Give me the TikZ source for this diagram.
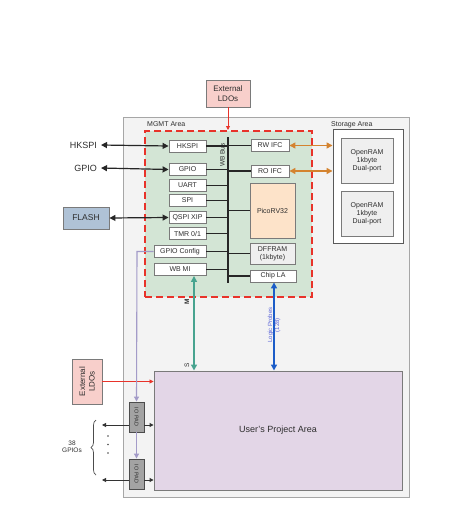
\documentclass[tikz,border=0pt]{standalone}
\usepackage{fontspec}
\setmainfont{Liberation Sans}
\usetikzlibrary{arrows.meta,decorations.pathreplacing}

\definecolor{chipfill}{HTML}{F3F3F3}
\definecolor{chipline}{HTML}{A6A6A6}
\definecolor{mgmtfill}{HTML}{D3E5D5}
\definecolor{mgmtred}{HTML}{E8332A}
\definecolor{ldofill}{HTML}{F8CFCB}
\definecolor{flashfill}{HTML}{AFC2D6}
\definecolor{picofill}{HTML}{FDE3C9}
\definecolor{ramfill}{HTML}{EFEFEF}
\definecolor{userfill}{HTML}{E3D6E7}
\definecolor{padfill}{HTML}{A3A3A3}
\definecolor{tealc}{HTML}{47A38F}
\definecolor{bluec}{HTML}{1B5CC8}
\definecolor{probec}{HTML}{5A64D8}
\definecolor{orangec}{HTML}{D4832F}
\definecolor{lavc}{HTML}{A39BC8}
\definecolor{boxline}{HTML}{7A7A7A}
\definecolor{txt}{HTML}{2E2E2E}

\tikzset{
  every node/.style={text=txt, font=\fontsize{7}{8}\selectfont, align=center, inner sep=0pt},
  blk/.style={draw=boxline, line width=0.9pt, fill=white, minimum width=37pt, minimum height=12pt},
  tips/.style={{Triangle[length=6pt,width=6pt]}-{Triangle[length=6pt,width=6pt]}},
  bus/.style={draw=black!85, line width=1.2pt},
  sig/.style={draw=black!85, line width=1.2pt, tips},
  orng/.style={draw=orangec, line width=1.4pt, tips},
}

\begin{document}
\begin{tikzpicture}[x=1pt,y=-1pt]
\useasboundingbox[fill=white] (0,0) rectangle (462,517);

% chip outline
\node[draw=chipline, fill=chipfill, line width=0.8pt, minimum width=286pt, minimum height=380pt] (chip) at (266,307) {};

% management area
\node[draw=mgmtred, fill=mgmtfill, line width=2.6pt, dash pattern=on 7pt off 4pt,
      minimum width=167pt, minimum height=166pt] (mgmt) at (228.5,214) {};
\node[anchor=west] (mgmtlbl) at (147,124.5) {MGMT Area};

% external LDOs feeding the management area
\node[draw=boxline, fill=ldofill, line width=0.9pt, minimum width=44pt, minimum height=27pt,
      font=\fontsize{8}{9.5}\selectfont] (ldotop) at (228,93.5) {External\\LDOs};
\draw[draw=mgmtred, line width=0.8pt, -{Triangle[length=4pt,width=4pt]}] (ldotop.south) -- (228,130);

% wishbone bus
\coordinate (bustop) at (228,137);
\coordinate (busbot) at (228,283);
\draw[bus] (bustop) -- (busbot);
\node[rotate=90, font=\fontsize{6.5}{7.5}\selectfont] (wblbl) at (222.5,155) {WB Bus};

% left-hand peripherals
\node[blk] (hkspi) at (187.5,146) {HKSPI};
\node[blk] (gpio)  at (187.5,169.5) {GPIO};
\node[blk] (uart)  at (187.5,185.5) {UART};
\node[blk] (spi)   at (187.5,200.5) {SPI};
\node[blk] (qspi)  at (187.5,217.5) {QSPI XIP};
\node[blk] (tmr)   at (187.5,233.5) {TMR 0/1};
\node[blk, minimum width=52pt] (gpiocfg) at (180,251.5) {GPIO Config};
\node[blk, minimum width=52pt] (wbmi)    at (180,269.5) {WB MI};

\foreach \n in {hkspi,gpio,uart,spi,qspi,tmr,gpiocfg,wbmi}
  \draw[bus] (\n.east) -- (\n.east -| bustop);

% right-hand blocks
\node[blk, minimum width=38pt] (rwifc) at (270,145.5) {RW IFC};
\node[blk, minimum width=38pt] (roifc) at (270,171) {RO IFC};
\node[blk, fill=picofill, minimum width=45pt, minimum height=55pt] (pico) at (272.5,210.5) {PicoRV32};
\node[blk, fill=ramfill, minimum width=45pt, minimum height=21pt] (dff) at (272.5,253.5) {DFFRAM\\(1kbyte)};
\node[blk, minimum width=46pt] (chipla) at (273,276) {Chip LA};

\foreach \n in {rwifc,roifc,pico,dff,chipla}
  \draw[bus] (\n.west -| bustop) -- (\n.west);

% storage area
\node[draw=black!65, fill=white, line width=0.9pt, minimum width=70pt, minimum height=114pt] (store) at (368,186) {};
\node[anchor=west] (storelbl) at (331,124.5) {Storage Area};
\node[blk, fill=ramfill, minimum width=52pt, minimum height=45pt] (ram1) at (367,160.5) {OpenRAM\\1kbyte\\Dual-port};
\node[blk, fill=ramfill, minimum width=52pt, minimum height=45pt] (ram2) at (367,213.5) {OpenRAM\\1kbyte\\Dual-port};

\draw[orng] (rwifc.east) -- (rwifc.east -| store.west);
\draw[orng] (roifc.east) -- (roifc.east -| store.west);

% external signals
\node[anchor=east, font=\fontsize{9}{10.5}\selectfont] (hkspiext) at (97,145) {HKSPI};
\node[anchor=east, font=\fontsize{9}{10.5}\selectfont] (gpioext)  at (97,168) {GPIO};
\draw[sig] (hkspiext.east) ++(4,0) coordinate (hkl) -- (hkspi.west);
\draw[sig] (gpioext.east) ++(4,0) coordinate (gpl) -- (gpio.west);
\node[draw=boxline, fill=flashfill, line width=0.9pt, minimum width=46pt, minimum height=22pt,
      font=\fontsize{8.5}{10}\selectfont] (flash) at (86,218) {FLASH};
\draw[sig] (flash.east) -- (qspi.west);

% user project area
\node[draw=boxline, fill=userfill, line width=0.9pt, minimum width=248pt, minimum height=119pt,
      font=\fontsize{9}{10.5}\selectfont] (user) at (278,430.5) {User's Project Area};

% management to user connections
\draw[draw=tealc, line width=1.7pt, tips] (wbmi.south -| 194,0) -- (194,370.5);
\node[rotate=90, font=\fontsize{6.5}{7.5}\selectfont\bfseries] (mlbl) at (187,302) {M};
\node[rotate=90, font=\fontsize{6.5}{7.5}\selectfont] (slbl) at (187,365) {S};
\draw[draw=bluec, line width=1.7pt, tips] (chipla.south -| 274,0) -- (274,370.5);
\node[rotate=90, text=probec, font=\fontsize{6}{7}\selectfont] (probelbl) at (274,325) {Logic Probes\\(128)};

% external LDOs feeding the user area
\node[draw=boxline, fill=ldofill, line width=0.9pt, minimum width=30pt, minimum height=45pt] (ldoleft) at (87,381.5) {};
\node[rotate=90, font=\fontsize{8}{9.5}\selectfont] (ldoleftlbl) at (ldoleft) {External\\LDOs};
\draw[draw=mgmtred, line width=0.8pt, -{Triangle[length=4pt,width=4pt]}] (ldoleft.east) -- (ldoleft.east -| user.west);

% IO pads
\node[draw=black!70, fill=padfill, line width=0.9pt, minimum width=15pt, minimum height=30pt] (pad1) at (136.5,417) {};
\node[rotate=-90, font=\fontsize{5.5}{6.5}\selectfont] (pad1lbl) at (pad1) {IO PAD};
\node[draw=black!70, fill=padfill, line width=0.9pt, minimum width=15pt, minimum height=30pt] (pad2) at (136.5,474) {};
\node[rotate=-90, font=\fontsize{5.5}{6.5}\selectfont] (pad2lbl) at (pad2) {IO PAD};

\coordinate (cfgturn) at (137,251.5);
\draw[draw=lavc, line width=1.1pt, -{Triangle[length=5pt,width=5pt]}] (gpiocfg.west) -- (cfgturn) -- (pad1.north);
\draw[draw=lavc, line width=1.1pt, -{Triangle[length=5pt,width=5pt]}] (pad1.south) -- (pad2.north);

\coordinate (out1) at (102,425);
\coordinate (out2) at (102,480);
\draw[draw=black!80, line width=0.9pt, -{Triangle[length=4pt,width=4pt]}] (pad1.west |- out1) -- (out1);
\draw[draw=black!80, line width=0.9pt, -{Triangle[length=4pt,width=4pt]}] (pad2.west |- out2) -- (out2);
\draw[draw=black!80, line width=0.9pt, -{Triangle[length=4pt,width=4pt]}] (pad1.east |- out1) -- (out1 -| user.west);
\draw[draw=black!80, line width=0.9pt, -{Triangle[length=4pt,width=4pt]}] (pad2.east |- out2) -- (out2 -| user.west);

% the 38 GPIO lines
\foreach \yy in {436,444.5,453}
  \fill[black!70] (108,\yy) circle (0.8pt);
\coordinate (brtop) at (96,420);
\coordinate (brbot) at (96,475);
\draw[draw=black!70, line width=0.7pt, decorate, decoration={brace, amplitude=5pt}] (brbot) -- (brtop);
\node[font=\fontsize{6.5}{7.5}\selectfont] (gpiocount) at (72,447) {38\\GPIOs};
\end{tikzpicture}
\end{document}
